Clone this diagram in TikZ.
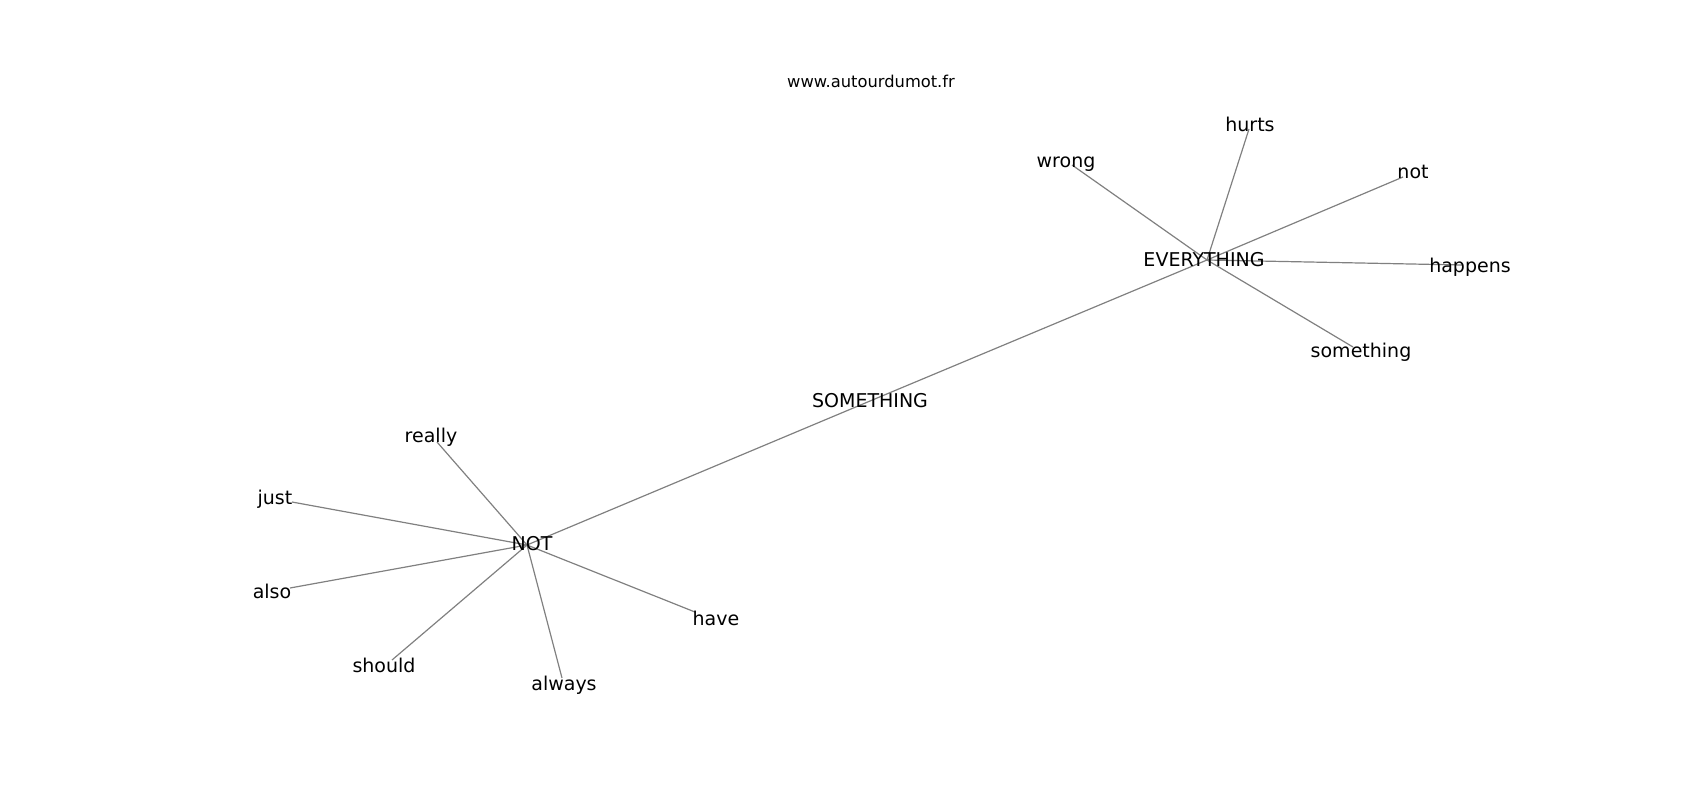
\documentclass[tikz,border=0pt]{standalone}
\usepackage{fontspec}
\setmainfont{DejaVu Sans}
\pgfdeclarelayer{background}
\pgfsetlayers{background,main}
\tikzset{
  word/.style={inner sep=0pt, font=\fontsize{19}{23}\selectfont, anchor=base},
  edge/.style={draw=black!50, line width=1.2pt}
}
\begin{document}
\begin{tikzpicture}[x=1pt,y=-1pt]
\useasboundingbox (0,0) rectangle (1700,800);
% label texts
\node[inner sep=0pt, font=\fontsize{16.3}{20}\selectfont, anchor=base] (wm) at (871,88) {www.autourdumot.fr};
\node[word] (EVERYTHING) at (1204,266) {EVERYTHING};
\node[word] (SOMETHING) at (870,407) {SOMETHING};
\node[word] (NOT) at (532,550) {NOT};
\node[word] (hurts) at (1250,131) {hurts};
\node[word] (wrong) at (1066,167) {wrong};
\node[word] (not) at (1413,178) {not};
\node[word] (happens) at (1470,272) {happens};
\node[word] (something) at (1361,357) {something};
\node[word] (really) at (431,442) {really};
\node[word] (just) at (275,504) {just};
\node[word] (also) at (272,598) {also};
\node[word] (have) at (716,625) {have};
\node[word] (should) at (384,672) {should};
\node[word] (always) at (564,690) {always};
% graph node positions
\coordinate (pEVERYTHING) at (1207,260);
\coordinate (pSOMETHING) at (870,401);
\coordinate (pNOT) at (527,545);
\coordinate (phurts) at (1249,129);
\coordinate (pwrong) at (1072,165);
\coordinate (pnot) at (1403,177);
\coordinate (phappens) at (1462,265);
\coordinate (psomething) at (1353,347);
\coordinate (preally) at (437,442);
\coordinate (pjust) at (292,502);
\coordinate (palso) at (290,588);
\coordinate (phave) at (695,612);
\coordinate (pshould) at (392,660);
\coordinate (palways) at (562,678);
\begin{pgfonlayer}{background}
\foreach \t in {hurts,wrong,not,happens,something,SOMETHING}
  \draw[edge] (pEVERYTHING) -- (p\t);
\foreach \t in {really,just,also,have,should,always,SOMETHING}
  \draw[edge] (pNOT) -- (p\t);
\end{pgfonlayer}
\end{tikzpicture}
\end{document}
